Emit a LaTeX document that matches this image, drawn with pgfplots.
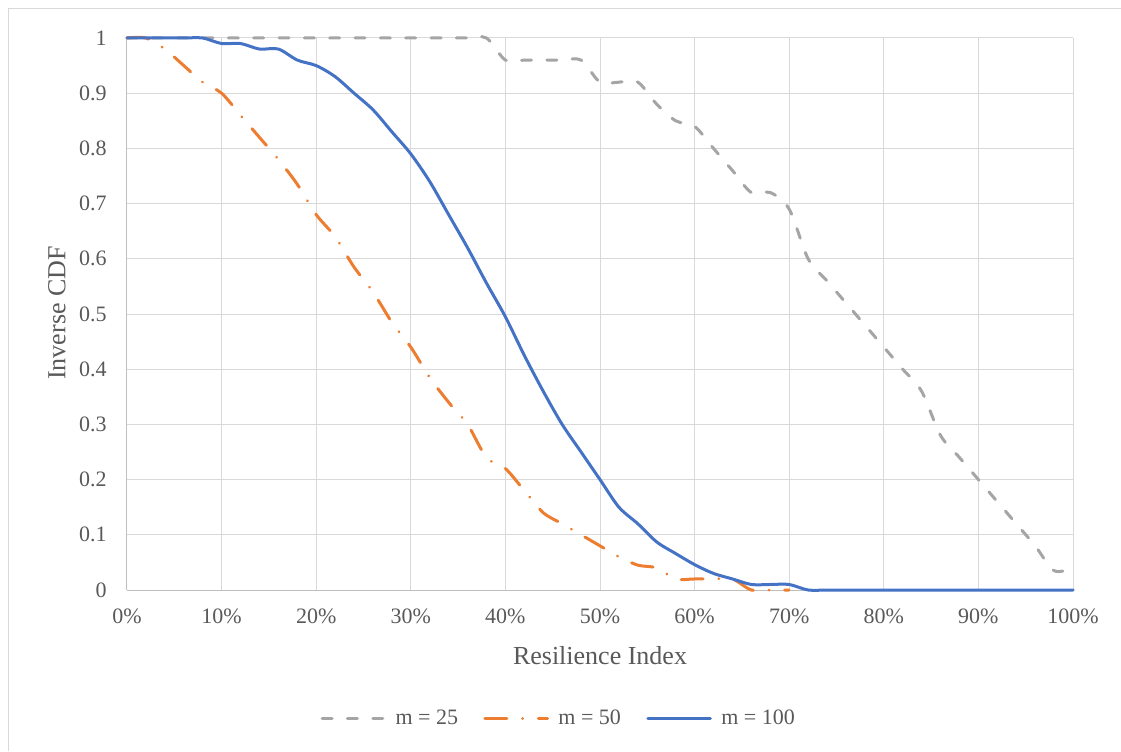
\documentclass[border=0pt]{standalone}
\usepackage{pgfplots}
\pgfplotsset{compat=1.18}
\usepackage{fontspec}
\setmainfont{Liberation Serif}

\definecolor{txt}{HTML}{595959}
\definecolor{gridc}{HTML}{D9D9D9}
\definecolor{axc}{HTML}{BFBFBF}
\definecolor{sgrey}{HTML}{A5A5A5}
\definecolor{sorange}{HTML}{ED7D31}
\definecolor{sblue}{HTML}{4472C4}

\begin{document}
\begin{tikzpicture}
\useasboundingbox (0,0) rectangle (840.75pt,563.25pt);
% chart area frame
\draw[gridc, line width=0.75pt] (6pt,0pt) -- (6pt,556.5pt) -- (840.75pt,556.5pt);
\begin{axis}[
  at={(95.25pt,120.75pt)}, anchor=south west,
  scale only axis, width=709.5pt, height=414pt,
  xmin=0, xmax=100, ymin=0, ymax=1,
  xtick={0,10,...,100},
  ytick={0,0.1,...,1.01},
  xticklabel={\pgfmathprintnumber{\tick}\%},
  /pgf/number format/assume math mode=true,
  /pgf/number format/fixed,
  /pgf/number format/precision=1,
  axis x line*=bottom, axis y line*=left,
  axis line style={axc, line width=0.75pt},
  major tick length=0pt,
  grid=major,
  major grid style={gridc, line width=0.75pt},
  tick label style={font=\fontsize{16.5}{18}\selectfont, text=txt},
  xticklabel style={anchor=north, inner sep=0pt, yshift=-14pt},
  yticklabel style={anchor=east, inner sep=0pt, xshift=-15pt},
  xlabel={Resilience Index},
  ylabel={Inverse CDF},
  label style={font=\fontsize{19.5}{22}\selectfont, text=txt},
  xlabel style={at={(axis description cs:0.5,-0.118)}, anchor=center},
  ylabel style={at={(axis description cs:-0.074,0.502)}, anchor=center, rotate=0},
  clip=false,
  legend columns=3,
  legend style={at={(0.4567,-0.232)}, anchor=center, draw=none, fill=none,
    font=\fontsize{16.5}{18}\selectfont, text=txt,
    /tikz/every even column/.append style={column sep=17pt}},
  legend cell align=left,
  legend image code/.code={\draw[#1] (0pt,0pt) -- (47pt,0pt); \path (52pt,0pt);},
  every axis plot/.append style={line width=2.25pt, smooth, tension=0.5, line cap=round, line join=round},
]
% m = 25
\addplot[sgrey, dash pattern=on 7.5pt off 11.5pt] coordinates {
 (0,1) (2,1) (4,1) (6,1) (8,1) (10,1) (12,1) (14,1) (16,1) (18,1)
 (20,1) (22,1) (24,1) (26,1) (28,1) (30,1) (32,1) (34,1) (36,1) (38,1)
 (40,0.96) (42,0.96) (44,0.96) (46,0.96) (48,0.96) (50,0.92) (52,0.92) (54,0.92)
 (56,0.88) (58,0.85) (60,0.84) (62,0.80) (64,0.76) (66,0.72) (68,0.72) (70,0.69)
 (72,0.60) (74,0.56) (76,0.52) (78,0.48) (80,0.44) (82,0.40) (84,0.36) (86,0.28)
 (88,0.24) (90,0.20) (92,0.16) (94,0.12) (96,0.08) (98,0.035) (100,0.04)
};
\addlegendentry{m = 25}
% m = 50
\addplot[sorange, dash pattern=on 16.5pt off 11.75pt on 0.01pt off 11.75pt] coordinates {
 (0,1) (2,1) (4,0.98) (6,0.95) (8,0.92) (10,0.90) (12,0.86) (14,0.82) (16,0.78)
 (18,0.735) (20,0.68) (22,0.64) (24,0.585) (26,0.54) (28,0.485) (30,0.44) (32,0.385)
 (34,0.34) (36,0.30) (38,0.24) (40,0.22) (42,0.18) (44,0.14) (46,0.12) (48,0.10)
 (50,0.08) (52,0.06) (54,0.045) (56,0.04) (58,0.02) (60,0.02) (62,0.02) (64,0.02)
 (66,0) (68,0) (70,0)
};
\addlegendentry{m = 50}
% m = 100
\addplot[sblue] coordinates {
 (0,1) (2,1) (4,1) (6,1) (8,1) (10,0.99) (12,0.99) (14,0.98) (16,0.98) (18,0.96)
 (20,0.95) (22,0.93) (24,0.90) (26,0.87) (28,0.83) (30,0.79) (32,0.74) (34,0.68)
 (36,0.62) (38,0.556) (40,0.495) (42,0.425) (44,0.36) (46,0.30) (48,0.25) (50,0.20)
 (52,0.15) (54,0.12) (56,0.087) (58,0.066) (60,0.046) (62,0.03) (64,0.02) (66,0.01)
 (68,0.01) (70,0.01) (72,0) (74,0) (76,0) (78,0) (80,0) (82,0) (84,0) (86,0) (88,0)
 (90,0) (92,0) (94,0) (96,0) (98,0) (100,0)
};
\addlegendentry{m = 100}
\end{axis}
\end{tikzpicture}
\end{document}
